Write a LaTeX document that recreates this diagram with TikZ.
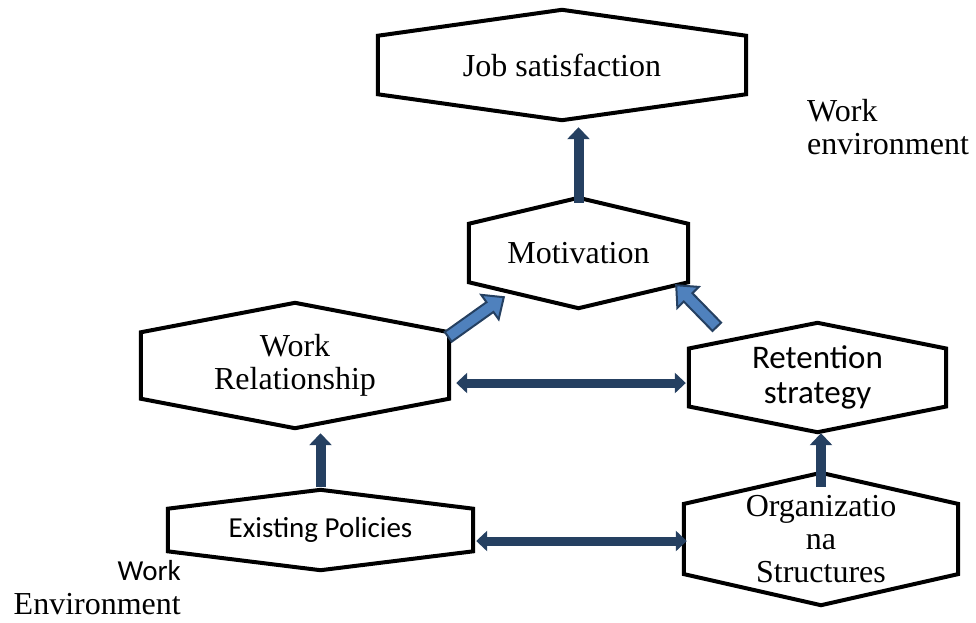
\documentclass[tikz,border=0pt]{standalone}
\usepackage{fontspec}
\setmainfont{Liberation Serif}
\newfontfamily\calibfont{Carlito}
\usetikzlibrary{calc,arrows.meta}

\definecolor{navy}{RGB}{37,64,97}
\definecolor{steel}{RGB}{79,129,189}

\begin{document}
\begin{tikzpicture}[x=1pt,y=-1pt]
        \tikzset{
          hexnode/.style = {inner sep=0pt, align=center, font=\fontsize{32}{33}\selectfont},
          hexline/.style = {draw=black, line width=4pt, line join=miter},
          uparr/.style = {draw=navy, line width=10pt, -{Triangle[width=22pt,length=12pt]}},
          twoarr/.style = {draw=navy, line width=9pt,
            {Triangle[width=20pt,length=11pt]}-{Triangle[width=20pt,length=11pt]}},
          blockarr/.style = {draw=navy, fill=steel, line width=2pt, line join=miter,
            to path={($(\tikztostart)!6pt!90:(\tikztotarget)$)
              -- ($(\tikztotarget)!17pt!(\tikztostart)!6pt!-90:(\tikztostart)$)
              -- ($(\tikztotarget)!17pt!(\tikztostart)!15pt!-90:(\tikztostart)$)
              -- (\tikztotarget)
              -- ($(\tikztotarget)!17pt!(\tikztostart)!15pt!90:(\tikztostart)$)
              -- ($(\tikztotarget)!17pt!(\tikztostart)!6pt!90:(\tikztostart)$)
              -- ($(\tikztostart)!6pt!-90:(\tikztotarget)$) -- cycle}}
        }
        \useasboundingbox (0,0) rectangle (976,622);

        \node[hexnode, minimum width=368pt, minimum height=110pt] (job) at (562,65) {Job satisfaction};
        \node[hexnode, minimum width=219pt, minimum height=110pt] (motiv) at (578.5,253) {Motivation};
        \node[hexnode, minimum width=308pt, minimum height=125pt] (workrel) at (295,365.5) {Work\\Relationship};
        \node[hexnode, minimum width=257pt, minimum height=109pt,
              font=\calibfont\fontsize{33}{35}\selectfont] (retent) at (817.5,377.5) {Retention\\strategy};
        \node[hexnode, minimum width=274pt, minimum height=132pt] (orgstr) at (821,539) {Organizatio\\na\\Structures};
        \node[hexnode, minimum width=305pt, minimum height=80pt,
              font=\calibfont\fontsize{29}{33}\selectfont] (exist) at (320.5,530) {Existing Policies};

        \node[align=left, anchor=west, inner sep=0pt, font=\fontsize{32}{33}\selectfont] (envtop) at (807,127) {Work\\environment};
        \node[align=right, anchor=east, inner sep=0pt, font=\fontsize{32}{34}\selectfont] (envbot) at (181,588)
             {{\calibfont\fontsize{29}{34}\selectfont Work}\\Environment};

        % hexagon outlines around the boxes
        \foreach \n in {job,motiv,workrel,retent,orgstr,exist}
          \draw[hexline] (\n.north) -- ($(\n.north east)!0.235!(\n.south east)$)
            -- ($(\n.south east)!0.235!(\n.north east)$) -- (\n.south)
            -- ($(\n.south west)!0.235!(\n.north west)$)
            -- ($(\n.north west)!0.235!(\n.south west)$) -- cycle;

        \draw[uparr] ([yshift=-5pt]motiv.north) -- ([yshift=-7pt]motiv.north |- job.south);
        \draw[uparr] ([yshift=3pt]exist.north) -- ([yshift=-5pt]exist.north |- workrel.south);
        \draw[uparr] ([yshift=-14pt]orgstr.north) -- ([yshift=-1pt]orgstr.north |- retent.south);

        \draw[twoarr] ($(workrel.east)+(7,17.5)$) -- ($(retent.west)+(-3,5.5)$);
        \draw[twoarr] ($(exist.east)+(3,11)$) -- ($(orgstr.west)+(3,2)$);

        \coordinate (wrtail) at ($(workrel.north east)+(-1,34)$);
        \coordinate (mvleft) at ($(motiv.south west)+(35,-11)$);
        \coordinate (rstail) at ($(retent.north west)+(28,4)$);
        \coordinate (mvright) at ($(motiv.south east)+(-12,-23)$);
        \draw[blockarr] (wrtail) to (mvleft);
        \draw[blockarr] (rstail) to (mvright);
\end{tikzpicture}
\end{document}
